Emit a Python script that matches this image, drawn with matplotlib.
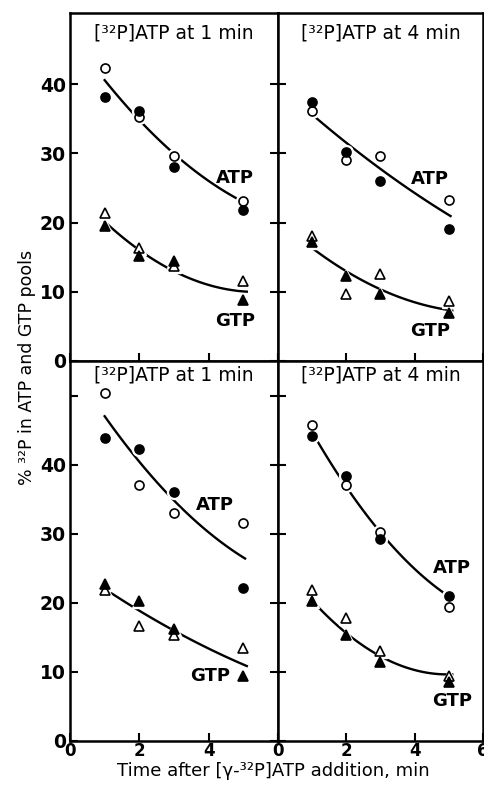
import matplotlib

matplotlib.use("Agg")
import matplotlib.pyplot as plt
import numpy as np

plt.rcParams["font.family"] = ["DejaVu Sans"]

# ── data ──────────────────────────────────────────────────────────────
times = [1, 2, 3, 5]
curve_times = [1, 2, 3, 4, 5]

titles = ["[³²P]ATP at 1 min", "[³²P]ATP at 4 min",
          "[³²P]ATP at 1 min", "[³²P]ATP at 4 min"]

atp_open = [[42.4, 35.2, 29.7, 23.1], [36.1, 29.0, 29.6, 23.3],
            [50.4, 37.1, 33.0, 31.5], [45.8, 37.0, 30.3, 19.4]]
atp_filled = [[38.2, 36.2, 28.1, 21.8], [37.4, 30.2, 26.0, 19.1],
              [43.9, 42.2, 36.1, 22.2], [44.1, 38.4, 29.3, 21.0]]
gtp_open = [[21.4, 16.3, 13.7, 11.6], [18.1, 9.7, 12.6, 8.7],
            [21.8, 16.6, 15.4, 13.5], [21.9, 17.8, 13.0, 9.4]]
gtp_filled = [[19.5, 15.2, 14.4, 8.8], [17.2, 12.3, 9.7, 6.9],
              [22.7, 20.3, 16.2, 9.4], [20.3, 15.3, 11.4, 8.5]]

# smooth curves drawn by hand in the original (values at t = 1..5)
atp_curve = [[40.6, 34.8, 30.0, 26.0, 23.0], [35.6, 31.6, 27.7, 24.3, 21.1],
             [46.9, 40.7, 34.6, 30.2, 26.6], [44.3, 37.8, 29.5, 24.8, 21.1]]
gtp_curve = [[20.2, 15.9, 13.0, 11.1, 10.0], [16.2, 13.3, 10.1, 8.5, 7.4],
             [21.9, 19.2, 15.7, 13.4, 11.1], [20.3, 15.7, 12.1, 10.4, 9.6]]

atp_label_pos = [(4.75, 26.5), (4.44, 26.3), (4.18, 34.2), (5.1, 25.0)]
gtp_label_pos = [(4.75, 5.8), (4.44, 4.4), (4.03, 9.4), (5.1, 5.8)]

# ── layout (pixel boxes on a 485x786 canvas) ──────────────────────────
W, H = 485, 786
col_x = [(70, 278), (278, 483)]
row_y = [(13, 361), (361, 741)]
row_ylim = [50.3, 55]

fig = plt.figure(figsize=(W / 100, H / 100), dpi=100)


def add_panel(row, col):
    x0, x1 = col_x[col]
    y0, y1 = row_y[row]
    return fig.add_axes([x0 / W, (H - y1) / H, (x1 - x0) / W, (y1 - y0) / H])


marker_kw = dict(linestyle="none", markersize=6.5, markeredgewidth=1.2,
                 markeredgecolor="black", zorder=4)

for i in range(4):
    row, col = divmod(i, 2)
    ax = add_panel(row, col)
    ax.set_xlim(0, 6)
    ax.set_ylim(0, row_ylim[row])

    # fitted curves, broken by white halos round the markers
    for curve, x_end in ((atp_curve[i], 5.05), (gtp_curve[i], 5.1)):
        coef = np.polyfit(curve_times, curve, 2)
        xs = np.linspace(1.0, x_end, 100)
        ax.plot(xs, np.polyval(coef, xs), color="black", lw=1.7, zorder=2)

    for vals, mk in ((atp_open[i], "o"), (atp_filled[i], "o"),
                     (gtp_open[i], "^"), (gtp_filled[i], "^")):
        ax.plot(times, vals, mk, color="white", markersize=10, zorder=3)
    ax.plot(times, atp_open[i], "o", markerfacecolor="white", **marker_kw)
    ax.plot(times, atp_filled[i], "o", markerfacecolor="black", **marker_kw)
    ax.plot(times, gtp_open[i], "^", markerfacecolor="white", **marker_kw)
    ax.plot(times, gtp_filled[i], "^", markerfacecolor="black", **marker_kw)

    ax.text(*atp_label_pos[i], "ATP", ha="center", va="center",
            fontsize=13, fontweight="bold")
    ax.text(*gtp_label_pos[i], "GTP", ha="center", va="center",
            fontsize=13, fontweight="bold")

    title_y = 0.943 if row == 0 else 0.963
    ax.text(0.5, title_y, titles[i], transform=ax.transAxes, ha="center",
            va="center", fontsize=13.5)

    for s in ax.spines.values():
        s.set_linewidth(1.8)

    ax.set_xticks([0, 2, 4, 6])
    ax.set_yticks([0, 10, 20, 30, 40] + ([50] if row == 1 else []))
    ax.tick_params(direction="in", length=6, width=1.5, labelsize=13.5,
                   pad=3, right=(col == 0))
    ax.tick_params(axis="x", pad=0.5, labelsize=12)

    if col == 0:
        ax.set_yticklabels(["0", "10", "20", "30", "40"] + ([""] if row == 1 else []),
                           fontweight="bold")
    else:
        ax.set_yticklabels([])
    if row == 1:
        ax.set_xticklabels(["0", "2", "4", "" if col == 0 else "6"],
                           fontweight="bold")
    else:
        ax.set_xticklabels([])

fig.text(27 / W, 1 - 367 / H, "% ³²P in ATP and GTP pools", rotation=90,
         ha="center", va="center", fontsize=12.5)
fig.text(273 / W, 1 - 771 / H, "Time after [γ-³²P]ATP addition, min",
         ha="center", va="center", fontsize=13)

plt.savefig("out.png", dpi=100)
plt.close()
